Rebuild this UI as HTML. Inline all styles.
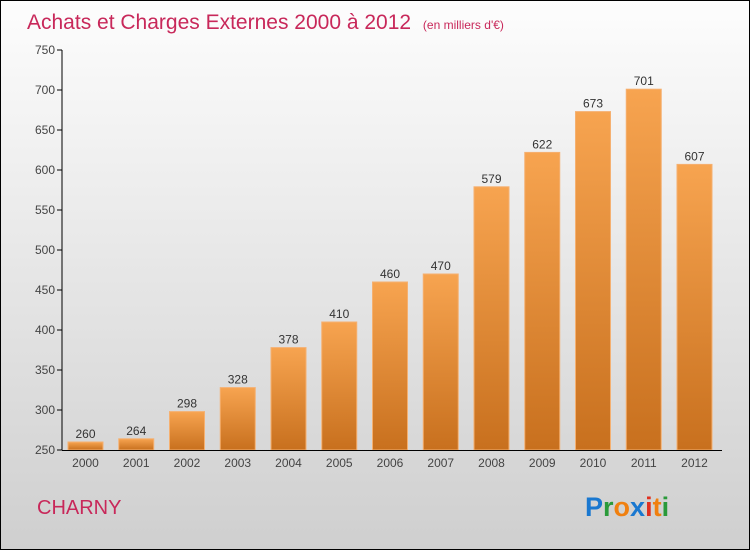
<!DOCTYPE html>
<html><head><meta charset="utf-8"><style>
body{margin:0}
#c{position:relative;width:748px;height:548px;border:1px solid #000;background:linear-gradient(#fdfdfd,#e6e6e6 50%,#cfcfcf);font-family:"Liberation Sans",sans-serif;overflow:hidden}
</style></head><body>
<div id="c">
<svg width="748" height="548" id="svg">
<defs><linearGradient id="bg" x1="0" y1="0" x2="0" y2="1"><stop offset="0" stop-color="#f7a450"/><stop offset="1" stop-color="#c8701e"/></linearGradient></defs>
<text x="26" y="28" font-size="21" fill="#c8285a">Achats et Charges Externes 2000 à 2012 <tspan font-size="12" dx="6">(en milliers d'€)</tspan></text>
<g id="plot"></g>
<text x="36" y="513" font-size="20" fill="#c8285a">CHARNY</text>
<text x="584" y="515" font-size="27" font-weight="bold"><tspan fill="#1a78d0">P</tspan><tspan fill="#2a9a3a">r</tspan><tspan fill="#f08010">o</tspan><tspan fill="#1a78d0">x</tspan><tspan fill="#e03020">i</tspan><tspan fill="#f08010">t</tspan><tspan fill="#2a9a3a">i</tspan></text>
</svg></div>
<script>
const categories=["2000","2001","2002","2003","2004","2005","2006","2007","2008","2009","2010","2011","2012"];
const values=[260,264,298,328,378,410,460,470,579,622,673,701,607];
const yTicks=[250,300,350,400,450,500,550,600,650,700,750];
const ns="http://www.w3.org/2000/svg";
const g=document.getElementById('plot');
const y=v=>449-(v-250)*0.8;
const x=i=>84.5+i*50.75;
function mk(t,a,txt){const e=document.createElementNS(ns,t);for(const k in a)e.setAttribute(k,a[k]);if(txt!==undefined)e.textContent=txt;g.appendChild(e);return e;}
yTicks.forEach(v=>{
 const l=mk('line',{x1:56,x2:61,y1:y(v),y2:y(v),stroke:'#000'});
 
 
 const t=mk('text',{x:54,y:y(v)+4,'font-size':12,'text-anchor':'end',fill:'#444'},v);
 
 
});
categories.forEach((c,i)=>{
 const r=mk('rect',{x:x(i)-17.5,y:y(values[i]),width:35,height:449-y(values[i]),fill:'url(#bg)',stroke:'#f5b070','stroke-width':1});
 
 
 const v=mk('text',{x:x(i),y:y(values[i])-4,'font-size':12,'text-anchor':'middle',fill:'#333'},values[i]);
 
 
 const t=mk('text',{x:x(i),y:466,'font-size':12,'text-anchor':'middle',fill:'#444'},c);
 
 
});
const ya=mk('line',{x1:61,x2:61,y1:y(750),y2:449.5,stroke:'#000'});


const xa=mk('line',{x1:61,x2:721,y1:449.5,y2:449.5,stroke:'#000'});


</script>
</body></html>
